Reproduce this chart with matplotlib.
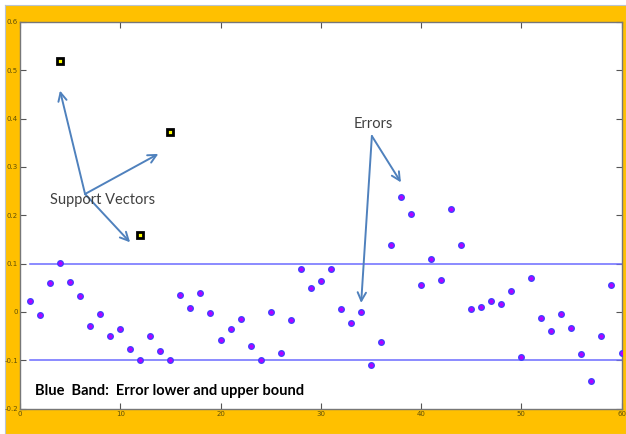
import matplotlib
matplotlib.use("Agg")
import matplotlib.pyplot as plt

# residuals, one per sample 1..60
x = list(range(1, 61))
y = [0.023, -0.007, 0.060, 0.101, 0.061, 0.032, -0.030, -0.004, -0.050, -0.035,
     -0.076, -0.099, -0.049, -0.082, -0.099, 0.035, 0.008, 0.039, -0.002, -0.059,
     -0.035, -0.015, -0.070, -0.099, 0.000, -0.086, -0.016, 0.089, 0.049, 0.064,
     0.089, 0.005, -0.024, 0.000, -0.110, -0.062, 0.139, 0.238, 0.202, 0.056,
     0.109, 0.067, 0.213, 0.139, 0.006, 0.011, 0.023, 0.017, 0.043, -0.093,
     0.071, -0.013, -0.040, -0.004, -0.033, -0.088, -0.144, -0.050, 0.055, -0.086]

sv_x = [4, 15, 12]
sv_y = [0.520, 0.373, 0.159]

band = [0.1, -0.1]
band_x = [1, 60]

xticks = [0, 10, 20, 30, 40, 50, 60]
yticks = [-0.2, -0.1, 0, 0.1, 0.2, 0.3, 0.4, 0.5, 0.6]
ylabels = ["-0.2", "-0.1", "0", "0.1", "0.2", "0.3", "0.4", "0.5", "0.6"]

fig = plt.figure(figsize=(6.26, 4.34), dpi=100)
fig.patch.set_facecolor("white")

# orange frame behind the plot
bg = fig.add_axes([5 / 626, 0, 621 / 626, 429 / 434], zorder=-1)
bg.set_facecolor("#FFC000")
bg.set_xticks([])
bg.set_yticks([])
for s in bg.spines.values():
    s.set_color("#b8c4d0")
    s.set_linewidth(0.8)

ax = fig.add_axes([20 / 626, (434 - 408.5) / 434, 601.5 / 626, 386.5 / 434])
ax.set_facecolor("white")

for b in band:
    ax.plot(band_x, [b, b], color="#6b6bff", lw=1.1, zorder=2)

ax.plot(x, y, linestyle="none", marker="o", ms=4, mfc="#b400ff", mec="#4040ff",
        mew=1.0, zorder=3)
ax.plot(sv_x, sv_y, linestyle="none", marker="s", ms=5, mfc="#ffff00", mec="black",
        mew=2, zorder=4)

ax.set_xlim(0, 60)
ax.set_ylim(-0.2, 0.6)
ax.set_xticks(xticks)
ax.set_yticks(yticks)
ax.set_yticklabels(ylabels)
ax.tick_params(direction="in", top=True, right=True, length=4, width=0.8,
               labelsize=5, labelcolor="#5e4e08", color="#555555", pad=1.5)
for s in ax.spines.values():
    s.set_color("#777777")
    s.set_linewidth(1.0)

arrow = dict(arrowstyle="->, head_length=0.6, head_width=0.3", color="#4f81bd", lw=1.4,
             shrinkA=0, shrinkB=0)

sv_origin = (6.49, 0.244)
for tip in [(3.99, 0.458), (13.8, 0.327), (10.98, 0.144)]:
    ax.annotate("", xy=tip, xytext=sv_origin, arrowprops=arrow, zorder=5)
ax.text(3.0, 0.232, "Support Vectors", family="Lato", fontsize=10.5, color="#404040",
        va="center", ha="left", zorder=6)

err_origin = (35.1, 0.364)
for tip in [(38.0, 0.268), (34.03, 0.0185)]:
    ax.annotate("", xy=tip, xytext=err_origin, arrowprops=arrow, zorder=5)
ax.text(35.2, 0.389, "Errors", family="Lato", fontsize=10.5, color="#404040",
        va="center", ha="center", zorder=6)

ax.text(1.5, -0.164, "Blue  Band:  Error lower and upper bound", family="Lato",
        fontweight="bold", fontsize=10.5, color="black", va="center", ha="left", zorder=6)

fig.savefig("out.png", dpi=100, facecolor=fig.get_facecolor())
